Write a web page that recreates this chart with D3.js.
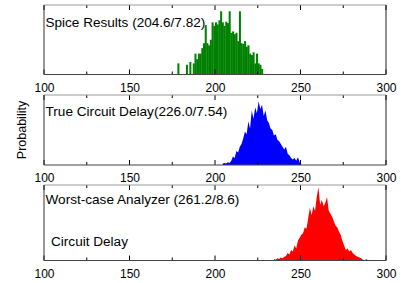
<!DOCTYPE html>
<html>
<head>
<meta charset="utf-8">
<script src="https://cdn.jsdelivr.net/npm/d3@7"></script>
<style>
  body { margin: 0; background: #fff; }
  svg { display: block; font-family: "Liberation Sans", Arial, sans-serif; }
</style>
</head>
<body>
<div id="chart"></div>
<script>
// x axis ticks (delay)
var majorTicks = [100, 150, 200, 250, 300];
var minorTicks = [125, 175, 225, 275];

// Spice results histogram (bin start, 1 unit wide), height in % of panel
var spiceBins = [178,179,180,181,182,183,184,185,186,187,188,189,190,191,192,193,194,195,196,197,198,199,200,201,202,203,204,205,206,207,208,209,210,211,212,213,214,215,216,217,218,219,220,221,222,223,224,225,226,227];
var spiceVals = [16,0,0,0,0,14,0,18,0,16,30,22,30,30,38,45,71,45,42,50,75,70,75,72,78,91,75,70,76,74,91,60,62,58,60,48,91,45,44,48,40,42,30,28,32,16,30,16,14,8];

// True circuit delay
var trueBins = [204,205,206,207,208,209,210,211,212,213,214,215,216,217,218,219,220,221,222,223,224,225,226,227,228,229,230,231,232,233,234,235,236,237,238,239,240,241,242,243,244,245,246,247,248,249,250];
var trueVals = [2,3,2,4,3,6,12,10,20,18,26,30,38,48,44,62,52,78,66,82,74,91,80,86,70,78,64,60,52,50,42,44,36,34,30,26,22,26,16,14,10,8,10,6,11,4,0];

// Worst-case analyzer
var wcBins = [234,235,236,237,238,239,240,241,242,243,244,245,246,247,248,249,250,251,252,253,254,255,256,257,258,259,260,261,262,263,264,265,266,267,268,269,270,271,272,273,274,275,276,277,278,279,280,281,282,283,284,285,286,287,288,289];
var wcVals = [2,1,3,2,4,3,5,6,10,8,14,12,20,16,26,30,34,36,44,42,56,70,60,72,66,84,97,74,80,72,76,84,66,62,58,52,46,44,38,34,26,20,14,16,12,14,10,8,6,5,4,3,1,0,2,0];

var labels = ["Spice Results (204.6/7.82)", "True Circuit Delay(226.0/7.54)", "Worst-case Analyzer (261.2/8.6)"];

var width = 401, height = 283;
var left = 44, right = 386;

var svg = d3.select("#chart").append("svg")
    .attr("width", width)
    .attr("height", height);

var xScale = d3.scaleLinear().domain([100, 300]).range([left, right]);

function wideText(x, y, str, w, size) {
    var t = svg.append("text")
        .attr("font-size", size)
        .text(str);
    var len = t.node().getComputedTextLength();
    t.attr("transform", "translate(" + x + "," + y + ") scale(" + (w / len) + ",1)");
    return t;
}

// panel boxes: top, bottom
var panels = [
    {top: 5, bottom: 74.5, bins: spiceBins, vals: spiceVals, color: "#008000", type: "bar", label: labels[0], ly: 27, lw: 160},
    {top: 95, bottom: 165, bins: trueBins, vals: trueVals, color: "#0000ff", type: "area", label: labels[1], ly: 116, lw: 182},
    {top: 185, bottom: 260.5, bins: wcBins, vals: wcVals, color: "#ff0000", type: "area", label: labels[2], ly: 204, lw: 194}
];

panels.forEach(function(p, idx) {
    var yScale = d3.scaleLinear().domain([0, 100]).range([p.bottom, p.top]);
    var g = svg.append("g").attr("class", "panel" + idx);
    var data = p.bins.map(function(b, i) { return {x: b, y: p.vals[i]}; });

    if (p.type === "bar") {
        g.selectAll("rect.bar").data(data).enter().append("rect")
            .attr("class", "bar")
            .attr("x", function(d) { return xScale(d.x); })
            .attr("y", function(d) { return yScale(d.y); })
            .attr("width", xScale(101) - xScale(100) + 0.3)
            .attr("height", function(d) { return yScale(0) - yScale(d.y); })
            .attr("fill", p.color);
    } else {
        var area = d3.area()
            .x(function(d) { return xScale(d.x + 0.5); })
            .y0(yScale(0))
            .y1(function(d) { return yScale(d.y); })
            .curve(d3.curveLinear);
        g.append("path").datum(data)
            .attr("d", area)
            .attr("fill", p.color)
            .attr("stroke", "none");
    }

    // bottom axis with labels
    var axB = g.append("g").attr("transform", "translate(0," + p.bottom + ")")
        .call(d3.axisBottom(xScale).tickValues(majorTicks).tickSize(0).tickPadding(8.5).tickFormat(d3.format("d")));
    axB.select(".domain").remove();
    axB.selectAll("text").attr("font-size", 12).attr("fill", "#000").attr("font-family", "Liberation Sans, Arial, sans-serif");

    // inward ticks top and bottom
    var tk = majorTicks.map(function(t) { return {v: t, len: 5}; })
        .concat(minorTicks.map(function(t) { return {v: t, len: 3}; }));
    g.selectAll("line.tb").data(tk).enter().append("line")
        .attr("class", "tb")
        .attr("x1", function(d) { return xScale(d.v); })
        .attr("x2", function(d) { return xScale(d.v); })
        .attr("y1", p.bottom)
        .attr("y2", function(d) { return p.bottom - d.len; })
        .attr("stroke", "#000");
    g.selectAll("line.tt").data(tk).enter().append("line")
        .attr("class", "tt")
        .attr("x1", function(d) { return xScale(d.v); })
        .attr("x2", function(d) { return xScale(d.v); })
        .attr("y1", p.top)
        .attr("y2", function(d) { return p.top + d.len; })
        .attr("stroke", "#000");

    // frame
    g.append("line").attr("x1", left).attr("x2", right).attr("y1", p.top).attr("y2", p.top).attr("stroke", "#999");
    g.append("line").attr("x1", left).attr("x2", right).attr("y1", p.bottom).attr("y2", p.bottom).attr("stroke", "#444");
    g.append("line").attr("x1", left).attr("x2", left).attr("y1", p.top).attr("y2", p.bottom).attr("stroke", "#333");
    g.append("line").attr("x1", right).attr("x2", right).attr("y1", p.top).attr("y2", p.bottom).attr("stroke", "#222");

    wideText(left + 1.5, p.ly, p.label, p.lw, 12.5);
});

wideText(51, 246, "Circuit Delay", 77, 12.5);

svg.append("text")
    .attr("transform", "translate(26,130) rotate(-90)")
    .attr("text-anchor", "middle")
    .attr("font-size", 12.5)
    .text("Probability");
</script>
</body>
</html>
